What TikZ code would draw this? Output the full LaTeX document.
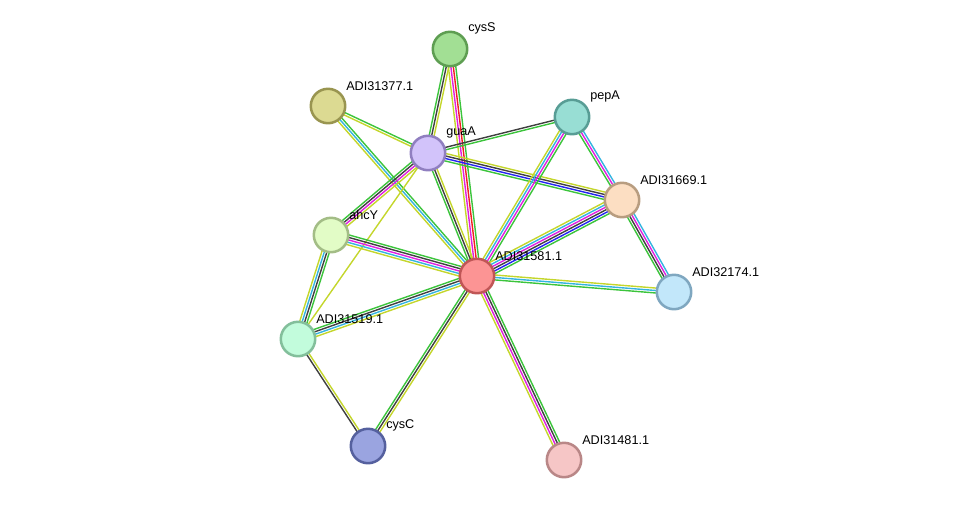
\documentclass[tikz,border=0pt]{standalone}
\usepackage{fontspec}
\setmainfont{Liberation Sans}
\usetikzlibrary{calc,backgrounds}
\definecolor{sgreen}{HTML}{3CC43C}
\definecolor{sdark}{HTML}{404040}
\definecolor{syellow}{HTML}{C4D62C}
\definecolor{smagenta}{HTML}{E020E0}
\definecolor{scyan}{HTML}{34B4E0}
\definecolor{sred}{HTML}{F02020}
\definecolor{sblue}{HTML}{2424F0}
\tikzset{
  prot/.style 2 args={/utils/exec={\definecolor{pfill}{HTML}{#1}\definecolor{pline}{HTML}{#2}},
    circle, draw=pline, fill=pfill, line width=1.8pt, minimum size=0.86cm, inner sep=0pt},
  lbl/.style={font=\fontsize{9pt}{10pt}\selectfont, inner sep=1.5pt, text=black, xshift=2pt, yshift=-0.2pt},
  ln/.style={line width=1pt},
}
% bundle of parallel lines: from, to, number of lines, colours
\newcommand\lnk[4]{%
  \foreach \c [count=\k] in {#4}{
    \pgfmathsetmacro\off{(\k-(#3+1)/2)*1.75}
    \draw[ln, \c] ($(#1)!\off pt!90:(#2)$) -- ($(#2)!\off pt!-90:(#1)$);
  }
}

\begin{document}
\begin{tikzpicture}[x=0.025cm,y=-0.025cm]
  \useasboundingbox (0,0) rectangle (976,506);
  % proteins
  \node[prot={A2DF94}{5E9E52}, label={[lbl]45:cysS}] (cysS) at (450,49) {};
  \node[prot={DCDA92}{999550}, label={[lbl]45:ADI31377.1}] (a377) at (328,106) {};
  \node[prot={98DED4}{589D95}, label={[lbl]45:pepA}] (pepA) at (572,117) {};
  \node[prot={D2C3FA}{907FC0}, label={[lbl]45:guaA}] (guaA) at (428,153) {};
  \node[prot={FCDEC2}{B89D80}, label={[lbl]45:ADI31669.1}] (a669) at (622,200) {};
  \node[prot={E2FCC6}{A3BD86}, label={[lbl]45:ahcY}] (ahcY) at (331,235) {};
  \node[prot={FC9494}{C05656}, label={[lbl]45:ADI31581.1}] (a581) at (477,276) {};
  \node[prot={C2E7FA}{7FA7C0}, label={[lbl]45:ADI32174.1}] (a174) at (674,292) {};
  \node[prot={C2FCDC}{83BF9B}, label={[lbl]45:ADI31519.1}] (a519) at (298,339) {};
  \node[prot={9AA4E0}{55609E}, label={[lbl]45:cysC}] (cysC) at (368,446) {};
  \node[prot={F6C6C6}{B98787}, label={[lbl]45:ADI31481.1}] (a481) at (564,460) {};

  % evidence lines
  \begin{scope}[on background layer]
    \lnk{cysS}{guaA}{3}{sgreen,sdark,syellow}
    \lnk{cysS}{a581}{4}{syellow,smagenta,sred,sgreen}
    \lnk{a377}{guaA}{2}{syellow,sgreen}
    \lnk{a377}{a581}{3}{syellow,scyan,sgreen}
    \lnk{guaA}{pepA}{2}{sgreen,sdark}
    \lnk{guaA}{a669}{4}{sgreen,sblue,sdark,syellow}
    \lnk{guaA}{a581}{3}{sgreen,sdark,syellow}
    \lnk{guaA}{ahcY}{4}{sgreen,sdark,smagenta,syellow}
    \lnk{guaA}{a519}{1}{syellow}
    \lnk{pepA}{a581}{4}{syellow,scyan,smagenta,sgreen}
    \lnk{pepA}{a669}{3}{sgreen,smagenta,scyan}
    \lnk{a669}{a581}{6}{syellow,scyan,smagenta,sdark,sblue,sgreen}
    \lnk{a669}{a174}{4}{sgreen,sdark,smagenta,scyan}
    \lnk{ahcY}{a581}{5}{syellow,scyan,smagenta,sdark,sgreen}
    \lnk{ahcY}{a519}{4}{syellow,scyan,sdark,sgreen}
    \lnk{a519}{a581}{4}{syellow,scyan,sdark,sgreen}
    \lnk{a519}{cysC}{2}{sdark,syellow}
    \lnk{a581}{cysC}{3}{sgreen,sdark,syellow}
    \lnk{a581}{a481}{4}{syellow,smagenta,sdark,sgreen}
    \lnk{a581}{a174}{3}{sgreen,scyan,syellow}
  \end{scope}
\end{tikzpicture}
\end{document}
